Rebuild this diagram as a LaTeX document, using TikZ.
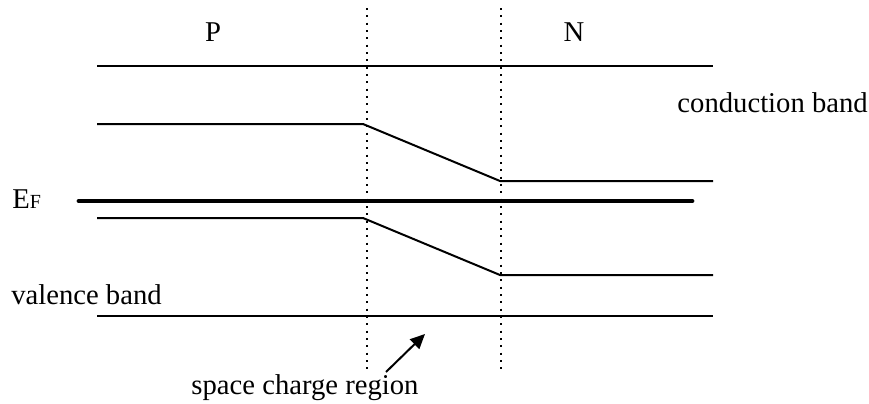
\documentclass[tikz,border=0pt]{standalone}
\usepackage{fontspec}
\setmainfont{Liberation Serif}
\usetikzlibrary{arrows.meta}
\begin{document}
\begin{tikzpicture}[x=0.75pt,y=-0.75pt,
  band/.style={line width=1.5pt},
  fermi/.style={line width=3.6pt,line cap=round},
  sep/.style={line width=1.5pt,dash pattern=on 1.5pt off 4pt},
  lbl/.style={inner sep=0pt,font=\fontsize{21.5}{25}\selectfont}]
\useasboundingbox (0,0) rectangle (869,404);
% coordinates
\coordinate (t1) at (97,66); \coordinate (t2) at (713,66);
\coordinate (c1) at (97,124); \coordinate (c2) at (363,124);
\coordinate (c3) at (500,181); \coordinate (c4) at (713,181);
\coordinate (f1) at (79,201); \coordinate (f2) at (692,201);
\coordinate (v1) at (97,218); \coordinate (v2) at (363,218);
\coordinate (v3) at (500,275); \coordinate (v4) at (713,275);
\coordinate (b1) at (97,316); \coordinate (b2) at (713,316);
\coordinate (d1a) at (367,8); \coordinate (d1b) at (367,372);
\coordinate (d2a) at (501,8); \coordinate (d2b) at (501,372);
\coordinate (a1) at (386,372); \coordinate (a2) at (425,334);
% lines
\draw[band] (t1) -- (t2);
\draw[band] (c1) -- (c2) -- (c3) -- (c4);
\draw[fermi] (f1) -- (f2);
\draw[band] (v1) -- (v2) -- (v3) -- (v4);
\draw[band] (b1) -- (b2);
\draw[sep] (d1a) -- (d1b);
\draw[sep] (d2a) -- (d2b);
\draw[line width=1.5pt,-{Triangle[length=11pt,width=10pt]}] (a1) -- (a2);
% labels
\node[lbl] (P) at (213,32) {P};
\node[lbl] (N) at (574,32) {N};
\node[lbl,anchor=base east] (cb) at (868,112) {conduction band};
\node[lbl,anchor=base west] (vb) at (11,304) {valence band};
\node[lbl,anchor=base west] (ef) at (12,208) {E{\fontsize{15}{15}\selectfont F}};
\node[lbl,anchor=base] (scr) at (305,394) {space charge region};
\end{tikzpicture}
\end{document}
